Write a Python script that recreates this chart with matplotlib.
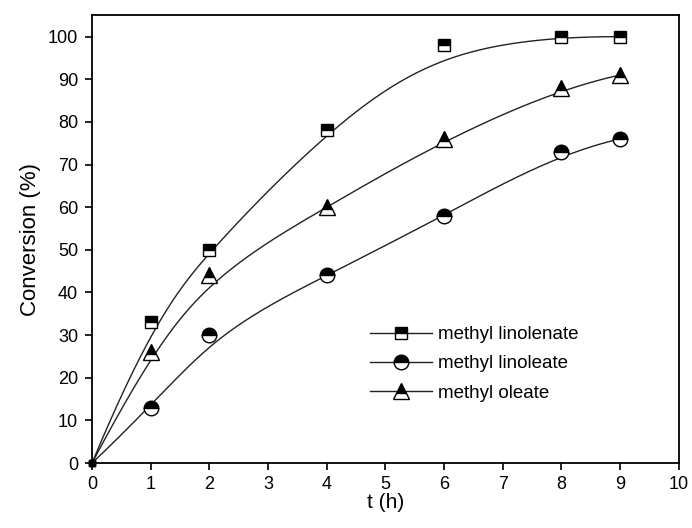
import numpy as np
import matplotlib
matplotlib.use("Agg")
import matplotlib.pyplot as plt

plt.rcParams['font.family'] = ['Liberation Sans', 'DejaVu Sans']

t = [0, 1, 2, 4, 6, 8, 9]
linolenate = [0, 33, 50, 78, 98, 100, 100]
linoleate = [0, 13, 30, 44, 58, 73, 76]
oleate = [0, 26, 44, 60, 76, 88, 91]

series = [
    ("methyl linolenate", linolenate, "s", 8.5),
    ("methyl linoleate", linoleate, "o", 10.5),
    ("methyl oleate", oleate, "^", 11),
]


def bspline(xs, ys, n=300, k=3):
    """Clamped uniform cubic B-spline using the data points as control polygon."""
    P = np.column_stack([xs, ys]).astype(float)
    m = len(P)
    inner = np.arange(1, m - k)
    knots = np.concatenate([np.zeros(k + 1), inner, np.full(k + 1, m - k)]).astype(float)
    u = np.linspace(0, m - k, n)
    u[-1] -= 1e-9

    def basis(i, p, uu):
        if p == 0:
            return ((knots[i] <= uu) & (uu < knots[i + 1])).astype(float)
        out = np.zeros_like(uu)
        d1 = knots[i + p] - knots[i]
        d2 = knots[i + p + 1] - knots[i + 1]
        if d1 > 0:
            out += (uu - knots[i]) / d1 * basis(i, p - 1, uu)
        if d2 > 0:
            out += (knots[i + p + 1] - uu) / d2 * basis(i + 1, p - 1, uu)
        return out

    N = np.array([basis(i, k, u) for i in range(m)])
    C = N.T @ P
    return C[:, 0], C[:, 1]


fig = plt.figure(figsize=(6.92, 5.28), dpi=100)
ax = fig.add_axes([0.133, 0.123, 0.848, 0.848])

marker_style = dict(fillstyle="top", markerfacecolor="black",
                    markerfacecoloralt="white", markeredgecolor="black",
                    markeredgewidth=1.0)

for label, vals, mk, ms in series:
    cx, cy = bspline(t, vals)
    ax.plot(cx, cy, color="#222222", lw=1.0, zorder=2)
    # measured points (the origin is drawn as a small solid dot)
    ax.plot(t[1:], vals[1:], linestyle="none", marker=mk, ms=ms, zorder=3,
            clip_on=False, **marker_style)
    ax.plot(t[:1], vals[:1], linestyle="none", marker="s", ms=4, color="black",
            zorder=3, clip_on=False)
    # legend entry: line through a marker
    ax.plot([], [], color="#222222", lw=1.0, marker=mk, ms=ms, label=label,
            **marker_style)

ax.set_xlim(0, 10)
ax.set_ylim(0, 105)
ax.set_xticks(range(0, 11))
ax.set_yticks(range(0, 101, 10))
ax.tick_params(direction="out", length=5, width=1.2, labelsize=13, colors="black")
ax.tick_params(axis="x", pad=4)
ax.tick_params(axis="y", pad=5)
for s in ax.spines.values():
    s.set_linewidth(1.3)

ax.set_xlabel("t (h)", fontsize=15, labelpad=0)
ax.set_ylabel("Conversion (%)", fontsize=16, labelpad=5)

ax.legend(loc="upper left", bbox_to_anchor=(0.474, 0.306), frameon=False,
          fontsize=13.5, handlelength=3.3, handletextpad=0.3, labelspacing=0.65,
          borderaxespad=0, borderpad=0)

fig.savefig("out.png", dpi=100)
